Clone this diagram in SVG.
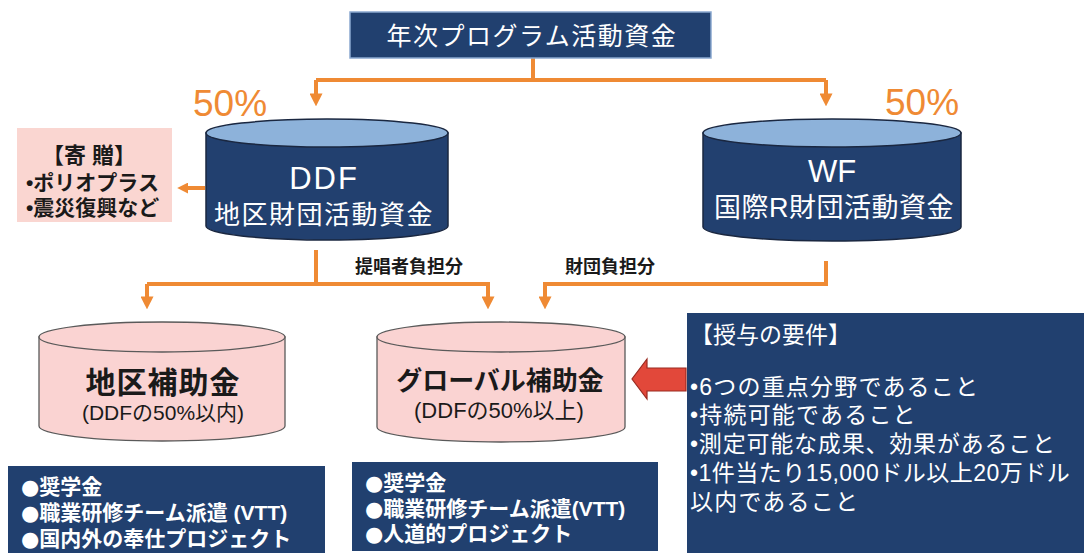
<svg xmlns="http://www.w3.org/2000/svg" width="1084" height="553" viewBox="0 0 1084 553">
<defs>
<style>
.t{font-family:"Liberation Sans","Noto Sans CJK JP",sans-serif;}
.d{font-family:"DejaVu Sans",sans-serif;}
.w{fill:#ffffff;}
.k{fill:#1a1a1a;}
.b{font-weight:bold;}
.navy{fill:#21406f;}
.conn{fill:none;stroke:#ef8a34;stroke-width:4;}
.pinkcyl{fill:#fad3d2;stroke:#5a5a5a;stroke-width:1.3;}
.navycyl{fill:#22406f;stroke:#1a2740;stroke-width:1.5;}
.navytop{fill:#8db2da;stroke:#1a2740;stroke-width:1.5;}
</style>
<marker id="ah" viewBox="0 0 10 10" refX="2" refY="5" markerWidth="13" markerHeight="13" markerUnits="userSpaceOnUse" orient="auto">
<path d="M0,0 L10,5 L0,10 z" fill="#ef8a34"/>
</marker>
<marker id="ahs" viewBox="0 0 10 10" refX="2" refY="5" markerWidth="11" markerHeight="11" markerUnits="userSpaceOnUse" orient="auto">
<path d="M0,0 L10,5 L0,10 z" fill="#ef8a34"/>
</marker>
</defs>
<rect width="1084" height="553" fill="#ffffff"/>

<g id="connectors">
<path class="conn" d="M533,58 V80"/>
<path class="conn" d="M316,80 H826"/>
<path class="conn" d="M316,80 V96" marker-end="url(#ah)"/>
<path class="conn" d="M826,80 V96" marker-end="url(#ah)"/>
<path class="conn" d="M205,188 H186" marker-end="url(#ahs)"/>
<path class="conn" d="M316,250 V284"/>
<path class="conn" d="M147,284 H490"/>
<path class="conn" d="M147,284 V299" marker-end="url(#ah)"/>
<path class="conn" d="M488,284 V299" marker-end="url(#ah)"/>
<path class="conn" d="M826,261 V284 H545 V299" marker-end="url(#ah)"/>
<text class="t k b" x="355" y="273" font-size="18">提唱者負担分</text>
<text class="t k b" x="565" y="273" font-size="18">財団負担分</text>
<path d="M686,368 H647 V359 L632,379 L647,399 V391 H686 Z" fill="#e2483a" stroke="#9a2a20" stroke-width="1.2"/>
</g>

<g id="top-fund">
<rect x="350" y="12" width="361" height="46" class="navy" stroke="#8aa8d0" stroke-width="1.5"/>
<text class="t w" x="532" y="45" font-size="25" text-anchor="middle" letter-spacing="1.5">年次プログラム活動資金</text>
</g>

<g id="pct-left">
<text class="t" x="193" y="116" font-size="37" fill="#ef8a34">50%</text>
</g>
<g id="pct-right">
<text class="t" x="885" y="115" font-size="37" fill="#ef8a34">50%</text>
</g>

<g id="ddf">
<path class="navycyl" d="M206,133 V226 A121,14 0 0 0 448,226 V133 Z"/>
<ellipse class="navytop" cx="327" cy="133" rx="121" ry="14"/>
<text class="t w" x="324" y="189" font-size="31" text-anchor="middle" letter-spacing="2">DDF</text>
<text class="t w" x="324" y="224" font-size="26" text-anchor="middle" letter-spacing="1.5">地区財団活動資金</text>
</g>

<g id="wf">
<path class="navycyl" d="M703,133 V227 A129,14 0 0 0 961,227 V133 Z"/>
<ellipse class="navytop" cx="832" cy="133" rx="129" ry="14"/>
<text class="t w" x="832" y="182" font-size="31" text-anchor="middle">WF</text>
<text class="t w" x="834" y="217" font-size="27" text-anchor="middle" letter-spacing="0.5">国際R財団活動資金</text>
</g>

<g id="donation">
<rect x="17" y="128" width="155" height="94" fill="#fad6d1"/>
<text class="t k b" x="89" y="163" font-size="22" text-anchor="middle">【寄 贈】</text>
<text class="t k b" x="26" y="190" font-size="21">•ポリオプラス</text>
<text class="t k b" x="26" y="215" font-size="21">•震災復興など</text>
</g>

<g id="district-grant">
<path class="pinkcyl" d="M39,337 V426 A123,15 0 0 0 285,426 V337 Z"/>
<ellipse class="pinkcyl" cx="162" cy="337" rx="123" ry="15"/>
<text class="t k b" x="163" y="393" font-size="30" text-anchor="middle" letter-spacing="1">地区補助金</text>
<text class="t k" x="163" y="420" font-size="21" text-anchor="middle">(DDFの50%以内)</text>
</g>

<g id="global-grant">
<path class="pinkcyl" d="M377,337 V427 A124,15 0 0 0 625,427 V337 Z"/>
<ellipse class="pinkcyl" cx="501" cy="337" rx="124" ry="15"/>
<text class="t k b" x="500" y="390" font-size="26" text-anchor="middle">グローバル補助金</text>
<text class="t k" x="499" y="418" font-size="22" text-anchor="middle">(DDFの50%以上)</text>
</g>

<g id="district-list">
<rect x="8" y="466" width="317" height="87" class="navy"/>
<text class="t w b" x="21" y="494" font-size="21"><tspan class="d">●</tspan>奨学金</text>
<text class="t w b" x="21" y="520" font-size="21"><tspan class="d">●</tspan>職業研修チーム派遣 (VTT)</text>
<text class="t w b" x="21" y="546" font-size="21"><tspan class="d">●</tspan>国内外の奉仕プロジェクト</text>
</g>

<g id="global-list">
<rect x="352" y="462" width="306" height="89" class="navy"/>
<text class="t w b" x="365" y="490" font-size="21"><tspan class="d">●</tspan>奨学金</text>
<text class="t w b" x="365" y="516" font-size="21"><tspan class="d">●</tspan>職業研修チーム派遣(VTT)</text>
<text class="t w b" x="365" y="541" font-size="21"><tspan class="d">●</tspan>人道的プロジェクト</text>
</g>

<g id="requirements">
<rect x="687" y="313" width="397" height="240" class="navy"/>
<text class="t w" x="690" y="343" font-size="23">【授与の要件】</text>
<text class="t w" x="690" y="395" font-size="23" letter-spacing="1.2">•6つの重点分野であること</text>
<text class="t w" x="690" y="423" font-size="23" letter-spacing="1.2">•持続可能であること</text>
<text class="t w" x="690" y="452" font-size="23" letter-spacing="0.8">•測定可能な成果、効果があること</text>
<text class="t w" x="690" y="481" font-size="23" letter-spacing="0.5">•1件当たり15,000ドル以上20万ドル</text>
<text class="t w" x="690" y="510" font-size="23" letter-spacing="1.2">以内であること</text>
</g>
</svg>
